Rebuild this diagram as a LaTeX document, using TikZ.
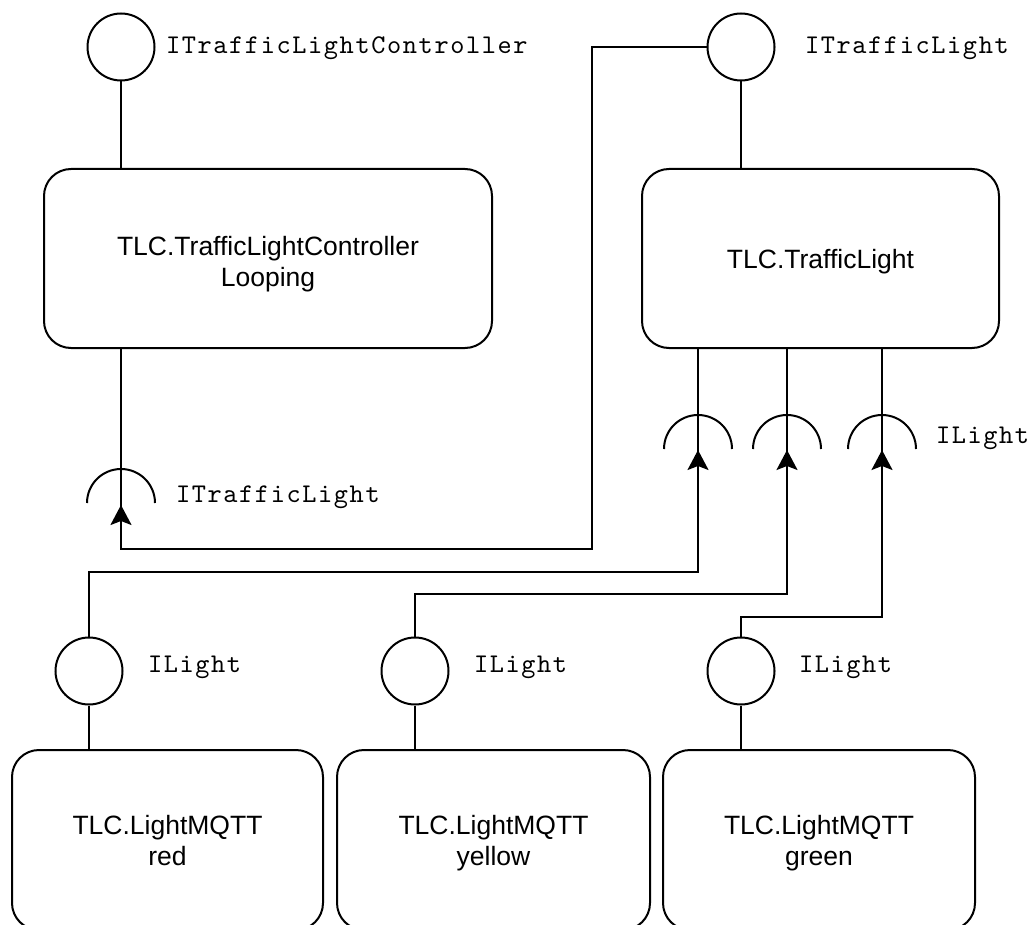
\documentclass[tikz,border=0pt]{standalone}
\usepackage{fontspec}
\setmainfont{Liberation Sans}
\newfontfamily\codefont{lmmono10-regular.otf}[LetterSpace=6.0]
\usetikzlibrary{arrows.meta}

\begin{document}
\begin{tikzpicture}[x=1pt,y=-1pt,
  every path/.style={line width=2pt},
  comp/.style={draw, line width=2pt, rounded corners=27pt, align=center,
    font=\fontsize{26.5}{31}\selectfont, inner sep=0pt},
  iface/.style={draw, line width=2pt, circle, minimum size=67pt, inner sep=0pt},
  ifname/.style={anchor=base west, inner sep=0pt, font=\codefont\fontsize{27}{30}\selectfont},
  arr/.style={-{Stealth[length=20pt,width=21pt,inset=4pt]}}
]
\useasboundingbox (0,0) rectangle (1032,925);

% components
\node[comp, minimum width=448pt, minimum height=179pt, text height=60pt, text depth=5pt] (ctl) at (268,258.5)
  {TLC.TrafficLightController\\Looping};
\node[comp, minimum width=357pt, minimum height=179pt, text height=20pt, text depth=0pt] (tl) at (820.5,258.5)
  {TLC.TrafficLight};
\node[comp, minimum width=311pt, minimum height=180pt, text height=55pt, text depth=5pt] (red) at (167.5,840)
  {TLC.LightMQTT\\red};
\node[comp, minimum width=313pt, minimum height=180pt, text height=55pt, text depth=5pt] (yel) at (493.5,840)
  {TLC.LightMQTT\\yellow};
\node[comp, minimum width=312pt, minimum height=180pt, text height=55pt, text depth=5pt] (grn) at (819,840)
  {TLC.LightMQTT\\green};

% provided interfaces (lollipops)
\node[iface] (pIC) at (121,47) {};
\node[iface] (pTL) at (741,47) {};
\node[iface] (pR) at (89,671) {};
\node[iface] (pY) at (415,671) {};
\node[iface] (pG) at (741,671) {};

% required interfaces (sockets): centre of each half circle
\coordinate (sC) at (121,503);
\coordinate (s1) at (698,449);
\coordinate (s2) at (787,449);
\coordinate (s3) at (882,449);
\foreach \s in {sC,s1,s2,s3}{
  \draw ([xshift=-34pt]\s) arc[start angle=180, end angle=0, radius=34pt];
}

% interface labels
\node[ifname] (lIC) at (165,54) {ITrafficLightController};
\node[ifname] (lTL) at (804,54) {ITrafficLight};
\node[ifname] (lSC) at (175,502) {ITrafficLight};
\node[ifname] (lS) at (935,443) {ILight};
\node[ifname] (lR) at (147,672) {ILight};
\node[ifname] (lY) at (473,672) {ILight};
\node[ifname] (lG) at (798,672) {ILight};

% stems between components and their interfaces
\draw (pIC.south) -- (pIC |- ctl.north);
\draw (pTL.south) -- (pTL |- tl.north);
\draw (pIC |- ctl.south) -- ([yshift=-34pt]sC);
\foreach \s in {s1,s2,s3}{
  \draw (\s |- tl.south) -- ([yshift=-34pt]\s);
}
\draw (pR.south) -- (pR |- red.north);
\draw (pY.south) -- (pY |- yel.north);
\draw (pG.south) -- (pG |- grn.north);

% assembly connectors
\coordinate (aC) at (121,505);
\coordinate (a1) at (698,450);
\coordinate (a2) at (787,450);
\coordinate (a3) at (882,450);
\coordinate (jC) at (592,549);
\coordinate (kR) at (698,572);
\coordinate (kY) at (787,594);
\coordinate (kG) at (882,617);

\draw[arr] (pTL.west) -| (jC) -| (aC);
\draw[arr] (pR.north) |- (kR) -- (a1);
\draw[arr] (pY.north) |- (kY) -- (a2);
\draw[arr] (pG.north) |- (kG) -- (a3);
\end{tikzpicture}
\end{document}
